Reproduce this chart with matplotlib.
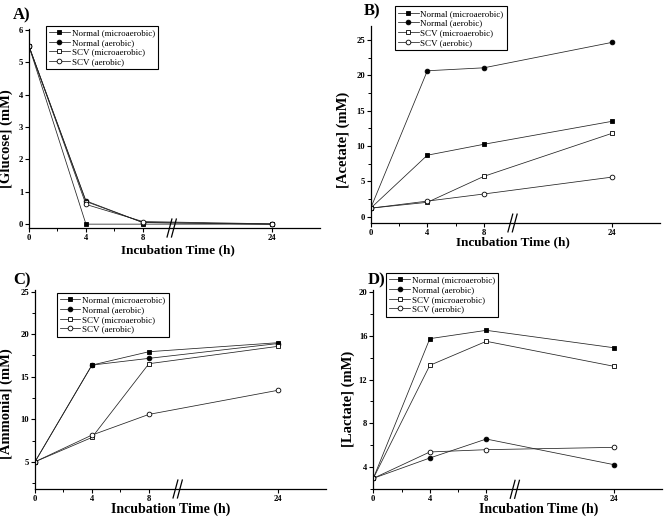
import numpy as np
import matplotlib
matplotlib.use('Agg')
import matplotlib.pyplot as plt
from matplotlib.ticker import FixedLocator, MultipleLocator
import matplotlib.transforms as mtransforms

plt.rcParams['font.family'] = ['Liberation Serif', 'DejaVu Serif']

hours = [0, 4, 8, 24]
series_names = ['Normal (microaerobic)', 'Normal (aerobic)', 'SCV (microaerobic)', 'SCV (aerobic)']

# values (mM)
glucose_normal_micro = [5.5, 0.0, 0.0, 0.0]
glucose_normal_aero = [5.5, 0.72, 0.05, 0.0]
glucose_scv_micro = [5.5, 0.70, 0.05, 0.0]
glucose_scv_aero = [5.5, 0.61, 0.08, 0.01]

acetate_normal_micro = [1.2, 8.7, 10.25, 13.5]
acetate_normal_aero = [1.2, 20.66, 21.08, 24.68]
acetate_scv_micro = [1.2, 2.03, 5.71, 11.8]
acetate_scv_aero = [1.2, 2.2, 3.21, 5.6]

ammonia_normal_micro = [5.0, 16.37, 17.94, 19.0]
ammonia_normal_aero = [5.0, 16.37, 17.16, 18.9]
ammonia_scv_micro = [5.0, 7.86, 16.53, 18.57]
ammonia_scv_aero = [5.0, 8.14, 10.57, 13.4]

lactate_normal_micro = [3.0, 15.72, 16.48, 14.89]
lactate_normal_aero = [3.0, 4.85, 6.58, 4.24]
lactate_scv_micro = [3.0, 13.29, 15.48, 13.2]
lactate_scv_aero = [3.0, 5.40, 5.61, 5.82]

# broken time axis: 8 -> 24 h is compressed
K = 9.05 / 16.0


def fwd(h):
    h = np.asarray(h, dtype=float)
    return np.where(h <= 8, h, 8 + (h - 8) * K)


def inv(u):
    u = np.asarray(u, dtype=float)
    return np.where(u <= 8, u, 8 + (u - 8) / K)


styles = [
    dict(marker='s', mfc='black', mec='black'),
    dict(marker='o', mfc='black', mec='black'),
    dict(marker='s', mfc='white', mec='black'),
    dict(marker='o', mfc='white', mec='black'),
]

fig = plt.figure(figsize=(6.64, 5.18), dpi=100)


def panel(rect, data, ylim, ymajor, yminor, ylabel, leg_anchor, xlab_xy, ylab_xy, xlab_size):
    ax = fig.add_axes(rect)
    for vals, name, st in zip(data, series_names, styles):
        ax.plot(hours, vals, color='#222222', lw=0.55, ms=3.4, mew=0.6, label=name, **st)
    ax.set_xscale('function', functions=(fwd, inv))
    ax.set_xlim(0, 30)
    ax.set_ylim(*ylim)
    ax.xaxis.set_major_locator(FixedLocator(hours))
    ax.xaxis.set_minor_locator(FixedLocator([2, 6]))
    ax.yaxis.set_major_locator(MultipleLocator(ymajor))
    if yminor:
        ax.yaxis.set_minor_locator(MultipleLocator(yminor))
    for s in ['top', 'right']:
        ax.spines[s].set_visible(False)
    for s in ['left', 'bottom']:
        ax.spines[s].set_linewidth(0.9)
    ax.tick_params(which='major', direction='out', length=3, width=0.8, labelsize=6.2, pad=1.2)
    ax.tick_params(which='minor', direction='out', length=2, width=0.7)
    for lbl in ax.get_xticklabels() + ax.get_yticklabels():
        lbl.set_fontweight('bold')

    ax.set_xlabel('Incubation Time (h)', fontsize=xlab_size, fontweight='bold', va='top')
    ax.xaxis.set_label_coords(*xlab_xy)
    ax.set_ylabel(ylabel, fontsize=10.5, fontweight='bold')
    ax.yaxis.set_label_coords(*ylab_xy)

    # axis break marks
    tr = mtransforms.blended_transform_factory(ax.transData, ax.transAxes)
    for x0 in [11.0, 11.55]:
        ax.plot([x0, x0 + 0.6], [-0.045, 0.045], color='black', lw=0.9,
                transform=tr, clip_on=False)

    leg = ax.legend(loc='upper left', bbox_to_anchor=leg_anchor, fontsize=6.5,
                    frameon=True, fancybox=False, framealpha=1, edgecolor='black',
                    handlelength=2.3, handletextpad=0.2, borderpad=0.35,
                    labelspacing=0.15, borderaxespad=0)
    leg.get_frame().set_linewidth(0.8)
    return ax


panel([0.0437, 0.5598, 0.4383, 0.3851],
      [glucose_normal_micro, glucose_normal_aero, glucose_scv_micro, glucose_scv_aero],
      (-0.12, 6.05), 1, None, '[Glucose] (mM)',
      (0.058, 1.015), (0.51, -0.08), (-0.055, 0.449), 9.5)

panel([0.5583, 0.5695, 0.4357, 0.3803],
      [acetate_normal_micro, acetate_normal_aero, acetate_scv_micro, acetate_scv_aero],
      (-0.9, 27), 5, 2.5, '[Acetate] (mM)',
      (0.083, 1.10), (0.49, -0.066), (-0.072, 0.424), 9.5)

panel([0.0527, 0.0560, 0.4383, 0.3842],
      [ammonia_normal_micro, ammonia_normal_aero, ammonia_scv_micro, ammonia_scv_aero],
      (1.8, 25.2), 5, 2.5, '[Ammonia] (mM)',
      (0.074, 0.985), (0.466, -0.068), (-0.076, 0.427), 10)

panel([0.5622, 0.0554, 0.4348, 0.3847],
      [lactate_normal_micro, lactate_normal_aero, lactate_scv_micro, lactate_scv_aero],
      (2.0, 20.15), 4, 2, '[Lactate] (mM)',
      (0.045, 1.085), (0.572, -0.068), (-0.064, 0.453), 10)

for txt, x, y in [('A)', 0.0196, 0.9865), ('B)', 0.548, 0.994),
                  ('C)', 0.0196, 0.475), ('D)', 0.553, 0.475)]:
    fig.text(x, y, txt, fontsize=12, fontweight='bold', va='top', ha='left')

fig.savefig('out.png', dpi=100)
